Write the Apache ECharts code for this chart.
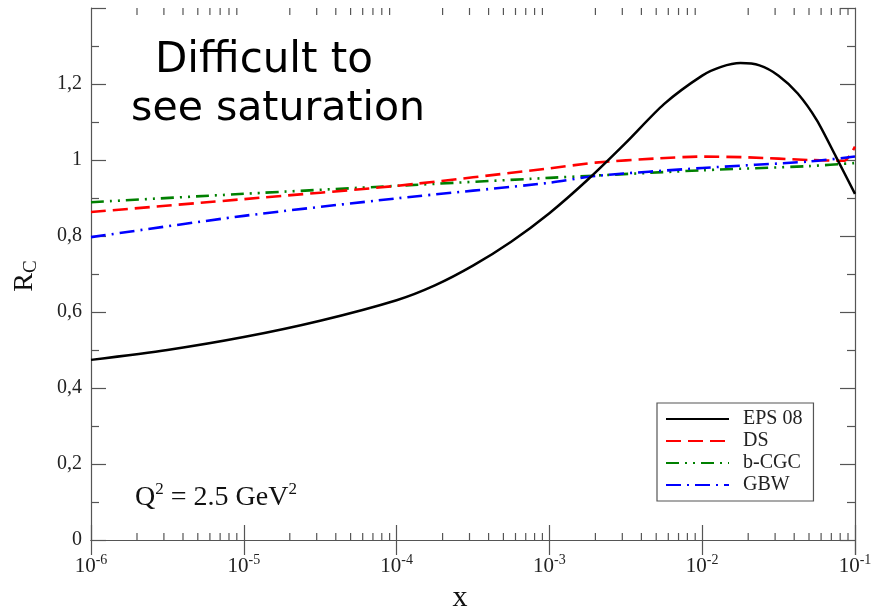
<!DOCTYPE html>
<html>
<head>
<meta charset="utf-8">
<script src="https://cdn.jsdelivr.net/npm/echarts@6/dist/echarts.min.js"></script>
<style>html,body{margin:0;padding:0;background:#fff;}#c{width:871px;height:611px;}</style>
</head>
<body>
<div id="c"></div>
<script>
// ---- data ----
const epsX = [1e-6, 3.16e-6, 1e-5, 3.16e-5, 1e-4, 1.78e-4, 3.16e-4, 5.62e-4, 1e-3, 1.78e-3, 3.16e-3, 5.62e-3, 1e-2, 1.33e-2, 1.78e-2, 2.37e-2, 3.16e-2, 4.22e-2, 5.62e-2, 7.5e-2, 1e-1];
const epsY = [0.474, 0.50, 0.534, 0.577, 0.631, 0.670, 0.722, 0.785, 0.86, 0.948, 1.045, 1.147, 1.222, 1.245, 1.255, 1.249, 1.222, 1.175, 1.105, 1.009, 0.911];
const dsX = [1e-6, 1e-5, 1e-4, 1e-3, 2e-3, 5e-3, 1e-2, 2e-2, 5e-2, 8.5e-2, 9.3e-2, 1e-1];
const dsY = [0.863, 0.897, 0.932, 0.978, 0.993, 1.004, 1.009, 1.007, 1.0, 0.998, 1.013, 1.035];
const cgcX = [1e-6, 1e-5, 1e-4, 1e-3, 2e-3, 1e-2, 5e-2, 1e-1];
const cgcY = [0.889, 0.911, 0.932, 0.953, 0.959, 0.973, 0.984, 0.992];
const gbwX = [1e-6, 1e-5, 1e-4, 1e-3, 2e-3, 1e-2, 5e-2, 1e-1];
const gbwY = [0.797, 0.853, 0.899, 0.94, 0.958, 0.979, 0.996, 1.009];
const seriesNames = ['EPS 08', 'DS', 'b-CGC', 'GBW'];
const decades = [-6, -5, -4, -3, -2];
const minorMultipliers = [2, 3, 4, 5, 6, 7, 8, 9];
const yTickValues = [0, 0.2, 0.4, 0.6, 0.8, 1, 1.2];

const pair = (xs, ys) => xs.map((x, i) => [x, ys[i]]);
const minorTicks = [];
decades.forEach(d => minorMultipliers.forEach(m => minorTicks.push([m * Math.pow(10, d), 0])));

const serif = 'Liberation Serif';
const frame = '#555';
const chart = echarts.init(document.getElementById('c'), null, {renderer: 'canvas'});

const xCommon = {
  type: 'log', logBase: 10, min: 1e-6, max: 1e-1, splitNumber: 5,
  axisLine: {show: true, lineStyle: {color: frame, width: 1.2}},
  axisTick: {show: true, inside: true, length: 15, lineStyle: {color: frame, width: 1.2}},
  splitLine: {show: false}
};
const yCommon = {
  type: 'value', min: 0, max: 1.4, interval: 0.2,
  axisLine: {show: true, lineStyle: {color: frame, width: 1.2}},
  axisTick: {show: true, inside: true, length: 15, lineStyle: {color: frame, width: 1.2}},
  minorTick: {show: true, splitNumber: 2, length: 8, lineStyle: {color: frame, width: 1.2}},
  splitLine: {show: false}, minorSplitLine: {show: false}
};

const option = {
  animation: false,
  backgroundColor: '#fff',
  grid: {left: 91, right: 16, top: 8, bottom: 71, containLabel: false, outerBoundsMode: 'none'},
  xAxis: [
    Object.assign({}, xCommon, {
      position: 'bottom',
      axisLabel: {
        margin: 13,
        formatter: v => '{b|10}{s|' + Math.round(Math.log10(v)) + '}',
        rich: {
          b: {fontSize: 21, fontFamily: serif, color: '#222'},
          s: {fontSize: 14, fontFamily: serif, color: '#222', padding: [0, 0, 12, 0]}
        }
      }
    }),
    Object.assign({}, xCommon, {position: 'top', axisLabel: {show: false}})
  ],
  yAxis: [
    Object.assign({}, yCommon, {
      position: 'left',
      axisLabel: {
        margin: 9, fontSize: 20, fontFamily: serif, color: '#222',
        formatter: v => {
          const r = Math.round(v * 10) / 10;
          if (yTickValues.indexOf(r) < 0) return '';
          return String(r).replace('.', ',');
        }
      }
    }),
    Object.assign({}, yCommon, {position: 'right', axisLabel: {show: false}})
  ],
  legend: {
    data: seriesNames,
    orient: 'vertical',
    left: 657, top: 403,
    padding: [6, 11, 6, 8],
    itemWidth: 63, itemHeight: 14, itemGap: 2,
    borderColor: frame, borderWidth: 1.2, borderRadius: 0,
    backgroundColor: '#fff',
    itemStyle: {opacity: 0},
    textStyle: {fontFamily: serif, fontSize: 20, color: '#222', lineHeight: 20, padding: [0, 0, 0, 9]},
    selectedMode: false
  },
  series: [
    {name: 'EPS 08', type: 'line', data: pair(epsX, epsY), smooth: 0.25, symbol: 'none', showSymbol: false,
     lineStyle: {color: '#000', width: 2.5}, itemStyle: {color: '#000'}, z: 5},
    {name: 'DS', type: 'line', data: pair(dsX, dsY), smooth: 0.25, symbol: 'none', showSymbol: false,
     lineStyle: {color: '#ff0000', width: 2.6, type: [15, 7]}, itemStyle: {color: '#ff0000'}, z: 4},
    {name: 'b-CGC', type: 'line', data: pair(cgcX, cgcY), smooth: 0.25, symbol: 'none', showSymbol: false,
     lineStyle: {color: '#008000', width: 2.6, type: [13, 6, 2, 6, 2, 6]}, itemStyle: {color: '#008000'}, z: 3},
    {name: 'GBW', type: 'line', data: pair(gbwX, gbwY), smooth: 0.25, symbol: 'none', showSymbol: false,
     lineStyle: {color: '#0000ff', width: 2.6, type: [15, 6, 2, 6]}, itemStyle: {color: '#0000ff'}, z: 4},
    {name: 'minorTicks', type: 'custom', data: minorTicks, silent: true, clip: false, z: 1,
     encode: {x: 0, y: 1},
     renderItem: (params, api) => {
       const v = api.value(0);
       const b = api.coord([v, 0]);
       const t = api.coord([v, 1.4]);
       const st = {stroke: frame, lineWidth: 1.2};
       return {type: 'group', children: [
         {type: 'line', shape: {x1: b[0], y1: b[1], x2: b[0], y2: b[1] - 7}, style: st},
         {type: 'line', shape: {x1: t[0], y1: t[1], x2: t[0], y2: t[1] + 7}, style: st}
       ]};
     }}
  ],
  graphic: [
    {type: 'text', x: 264, y: 61, style: {text: 'Difficult to', font: '42px "Comic Sans MS", "DejaVu Sans", sans-serif', fill: '#000', textAlign: 'center', textVerticalAlign: 'middle'}},
    {type: 'text', x: 278, y: 109, style: {text: 'see saturation', font: '41px "Comic Sans MS", "DejaVu Sans", sans-serif', fill: '#000', textAlign: 'center', textVerticalAlign: 'middle'}},
    {type: 'text', x: 135, y: 498, style: {
      text: '{a|Q}{s|2}{a| = 2.5 GeV}{s|2}',
      textAlign: 'left', textVerticalAlign: 'middle',
      rich: {
        a: {fontSize: 28, fontFamily: serif, fill: '#111', color: '#111'},
        s: {fontSize: 17, fontFamily: serif, fill: '#111', color: '#111', padding: [0, 0, 17, 0]}
      }}},
    {type: 'text', x: 460, y: 598, style: {text: 'x', font: '30px "Liberation Serif"', fill: '#111', textAlign: 'center', textVerticalAlign: 'middle'}},
    {type: 'text', x: 25, y: 276, rotation: Math.PI / 2, style: {
      text: '{a|R}{c|C}', textAlign: 'center', textVerticalAlign: 'middle',
      rich: {
        a: {fontSize: 28, fontFamily: serif, fill: '#111', color: '#111'},
        c: {fontSize: 19, fontFamily: serif, fill: '#111', color: '#111', padding: [12, 0, 0, 0]}
      }}}
  ]
};
chart.setOption(option);
</script>
</body>
</html>
